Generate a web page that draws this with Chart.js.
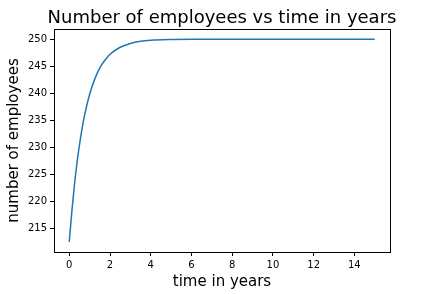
<!DOCTYPE html>
<html>
<head>
<meta charset="utf-8">
<script src="https://cdn.jsdelivr.net/npm/chart.js@4"></script>
<style>
  html, body { margin: 0; padding: 0; background: #fff; }
  #wrap { width: 446px; height: 294px; }
</style>
</head>
<body>
<div id="wrap"><canvas id="chart" width="446" height="294"></canvas></div>
<script>
// values
const years = [0, 0.125, 0.25, 0.375, 0.5, 0.625, 0.75, 1, 1.25, 1.5, 1.75, 2, 2.5, 3, 3.5, 4, 5, 6, 8, 10, 12, 15];
const employees = [212.5, 218.1, 222.9, 227.0, 230.4, 233.4, 235.9, 239.8, 242.6, 244.7, 246.1, 247.2, 248.5, 249.2, 249.6, 249.8, 249.95, 250, 250, 250, 250, 250];
const xTicks = [0, 2, 4, 6, 8, 10, 12, 14];
const yTicks = [215, 220, 225, 230, 235, 240, 245, 250];
const chartTitle = 'Number of employees vs time in years';

const font = 'DejaVu Sans';

// matplotlib-like box around the plot area, title centred over the axes
const frame = {
    id: 'frame',
    afterDraw(chart) {
        const a = chart.chartArea;
        const ctx = chart.ctx;
        ctx.save();
        ctx.strokeStyle = '#000';
        ctx.lineWidth = 1;
        ctx.strokeRect(Math.round(a.left) + 0.5, Math.round(a.top) + 0.5,
            Math.round(a.right - a.left), Math.round(a.bottom - a.top));
        ctx.fillStyle = '#000';
        ctx.font = '18px "' + font + '"';
        ctx.textAlign = 'center';
        ctx.textBaseline = 'alphabetic';
        ctx.fillText(chartTitle, (a.left + a.right) / 2, 23);
        ctx.restore();
    }
};

const ctx = document.getElementById('chart').getContext('2d');
const myChart = new Chart(ctx, {
    type: 'line',
    data: {
        datasets: [{
            data: years.map((t, i) => ({ x: t, y: employees[i] })),
            borderColor: '#1f77b4',
            borderWidth: 1.5,
            pointRadius: 0,
            cubicInterpolationMode: 'monotone',
            fill: false
        }]
    },
    options: {
        responsive: false,
        animation: false,
        layout: { padding: { left: 0, right: 56, top: 29, bottom: 0 } },
        plugins: {
            legend: { display: false },
            tooltip: { enabled: false },
            title: { display: false }
        },
        scales: {
            x: {
                type: 'linear',
                min: -0.75,
                max: 15.75,
                afterBuildTicks: (s) => { s.ticks = xTicks.map(v => ({ value: v })); },
                afterFit: (s) => { s.height = 42; },
                grid: { drawOnChartArea: false, tickLength: 4, color: '#000', tickColor: '#000' },
                border: { display: true, color: '#000' },
                ticks: { color: '#000', padding: 3, maxRotation: 0, font: { family: font, size: 10 } },
                title: {
                    display: true,
                    text: 'time in years',
                    color: '#000',
                    font: { family: font, size: 15 },
                    padding: { top: 0, bottom: 3 }
                }
            },
            y: {
                min: 210.625,
                max: 251.875,
                afterBuildTicks: (s) => { s.ticks = yTicks.map(v => ({ value: v })); },
                afterFit: (s) => { s.width = 54; },
                grid: { drawOnChartArea: false, tickLength: 4, color: '#000', tickColor: '#000' },
                border: { display: true, color: '#000' },
                ticks: { color: '#000', padding: 3, font: { family: font, size: 10 } },
                title: {
                    display: true,
                    text: 'number of employees',
                    color: '#000',
                    font: { family: font, size: 15 },
                    padding: { top: 5, bottom: 0 }
                }
            }
        }
    },
    plugins: [frame]
});
</script>
</body>
</html>
